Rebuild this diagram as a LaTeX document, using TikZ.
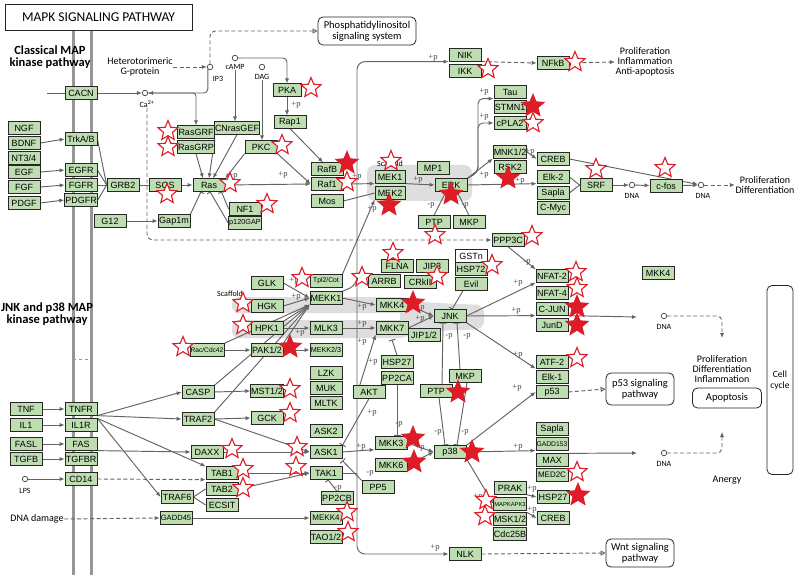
\documentclass[tikz,border=0pt]{standalone}
\usepackage{fontspec}
\setmainfont{Carlito}
\newfontfamily\arialf{Liberation Sans}
\newfontfamily\serff{Liberation Serif}
\usetikzlibrary{shapes.geometric,arrows.meta,calc}
\definecolor{gfill}{RGB}{190,222,178}
\definecolor{starred}{RGB}{222,28,40}
\definecolor{edgec}{RGB}{100,100,100}
\definecolor{memb}{RGB}{150,150,150}
\definecolor{scaf}{RGB}{222,222,222}
\pgfdeclarelayer{bgA}\pgfdeclarelayer{bgB}\pgfsetlayers{bgA,bgB,main}
\tikzset{
 gbox/.style={draw=black!85, fill=gfill, line width=0.75pt, minimum width=32pt, minimum height=12.5pt, inner sep=0.6pt, font=\arialf\fontsize{9}{9}\selectfont},
 rbox/.style={draw=black!85, fill=white, rounded corners=5pt, line width=0.8pt, align=center, font=\fontsize{10.5}{11}\selectfont, inner sep=2pt},
 hstar/.style={star, star points=5, star point ratio=2.25, minimum size=21pt, inner sep=0pt, draw=starred, fill=white, line width=1.1pt},
 fstar/.style={hstar, fill=starred, minimum size=23pt},
 cpd/.style={circle, draw=black!75, fill=white, line width=0.7pt, minimum size=5.5pt, inner sep=0pt},
 ed/.style={draw=edgec, line width=0.95pt},
 ar/.style={ed, -{Latex[length=5pt,width=4.2pt]}},
 inh/.style={ed, -{Bar[width=7pt]}},
 da/.style={ar, dash pattern=on 4pt off 2.5pt},
 dao/.style={ed, dash pattern=on 4pt off 2.5pt, -{Triangle[open,length=5pt,width=5pt]}},
 pl/.style={font=\serff\fontsize{8.5}{9}\selectfont, text=black!75, inner sep=0.3pt},
 lbl/.style={font=\fontsize{10}{10}\selectfont, align=center, inner sep=0.5pt},
 sml/.style={font=\fontsize{8}{8}\selectfont, inner sep=0.3pt},
 hd/.style={font=\bfseries\fontsize{12.5}{11.5}\selectfont, align=center, inner sep=0pt},
}
\newcommand\kb[3]{\node[gbox] (#1) at (#2) {#3};}
\newcommand\kbs[4]{\node[gbox,#4] (#1) at (#2) {#3};}
\newcommand\hs[2]{\node[hstar] (#1) at (#2) {};}
\newcommand\fs[2]{\node[fstar] (#1) at (#2) {};}
\newcommand\pl[3]{\node[pl] (#1) at (#2) {#3};}
\begin{document}
\begin{tikzpicture}[x=1pt,y=-1pt]
\useasboundingbox (0,0) rectangle (800,580);

\begin{pgfonlayer}{bgA}
\fill[white] (0,0) rectangle (800,580);
\draw[memb, line width=3pt] (73,31) -- (73,575);
\draw[memb, line width=3pt] (91,31) -- (91,575);
\draw[memb, line width=1pt, dashed] (73,359) -- (91,359);
\fill[scaf, rounded corners=8pt] (367,165) rectangle (472,201);
\fill[scaf, rounded corners=7pt] (232,297) rectangle (408,313);
\fill[scaf, rounded corners=7pt] (232,320) rectangle (408,338);
\fill[scaf, rounded corners=8pt] (400,300) -- (436,303) -- (484,305) -- (484,329) -- (436,331) -- (400,338) -- cycle;
\end{pgfonlayer}

% headings and texts
\node[draw=black!85, line width=0.8pt, minimum width=187pt, minimum height=26pt, font=\fontsize{13.5}{14}\selectfont] (title) at (98.5,17) {MAPK SIGNALING PATHWAY};
\node[hd] (hd1) at (50,57) {Classical MAP\\kinase pathway};
\node[hd] (hd2) at (47,314) {JNK and p38 MAP\\kinase pathway};
\node[lbl] (hetg) at (140,67) {Heterotorimeric\\G-protein};
\node[lbl] (piatxt) at (645,62) {Proliferation\\Inflammation\\Anti-apoptosis};
\node[lbl] (pdtxt) at (765,185) {Proliferation\\Differentiation};
\node[lbl] (pditxt) at (722,369) {Proliferation\\Differentiation\\Inflammation};
\node[lbl] (anergy) at (727,480) {Anergy};
\node[lbl] (dnad) at (37,519) {DNA damage};
\node[sml] (scf1) at (230,294) {Scaffold};
\node[sml] (scf2) at (390,164) {Scaffold};

% rounded boxes
\node[rbox, minimum width=98pt, minimum height=28pt] (phos) at (367,31) {Phosphatidylinositol\\signaling system};
\node[rbox, minimum width=68pt, minimum height=32pt] (p53sig) at (640,389) {p53 signaling\\pathway};
\node[rbox, minimum width=68pt, minimum height=28pt] (wnt) at (640,553) {Wnt signaling\\pathway};
\node[rbox, minimum width=69pt, minimum height=20pt] (apo) at (727,398) {Apoptosis};
\node[rbox, minimum width=26pt, minimum height=189pt, font=\fontsize{9.5}{11}\selectfont] (cc) at (780,380) {Cell\\cycle};

% compounds
\node[cpd] (Ca) at (145,93) {};
\node[sml] (Cal) at (147,104) {Ca\textsuperscript{2+}};
\node[cpd] (IP3) at (210,67) {};
\node[sml] (IP3l) at (218,79) {IP3};
\node[cpd] (cAMP) at (235,58) {};
\node[sml] (cAMPl) at (235,67) {cAMP};
\node[cpd] (DAG) at (262,67) {};
\node[sml] (DAGl) at (262,77) {DAG};
\node[cpd] (DNA1) at (632,185) {};
\node[sml] (dl1) at (632,196) {DNA};
\node[cpd] (DNA2) at (701,185) {};
\node[sml] (dl2) at (703,196) {DNA};
\node[cpd] (DNA3) at (664,316) {};
\node[sml] (dl3) at (664,327) {DNA};
\node[cpd] (DNA4) at (664,453) {};
\node[sml] (dl4) at (664,464) {DNA};
\node[cpd] (LPS) at (25,479) {};
\node[sml] (LPSl) at (25,491) {LPS};
\coordinate (cacnin) at (47,93);
\coordinate (dna3in) at (637,317);
\coordinate (dna4in) at (637,453);
\coordinate (pdiend) at (722,338);
\coordinate (apoend) at (722,432);
\coordinate (jT) at (357,285);
\coordinate (jM) at (357,394);

% gene boxes - classical
\kb{CACN}{81,93}{CACN}
\kb{NGF}{24,128}{NGF}
\kb{BDNF}{24,143}{BDNF}
\kb{NT34}{24,158}{NT3/4}
\kb{EGF}{24,172}{EGF}
\kb{FGF}{24,187}{FGF}
\kb{PDGF}{24,203}{PDGF}
\kb{TrkAB}{81,139}{TrkA/B}
\kb{EGFR}{81,170}{EGFR}
\kb{FGFR}{81,185}{FGFR}
\kb{PDGFR}{81,200}{PDGFR}
\kb{GRB2}{123,185}{GRB2}
\kb{SOS}{165,185}{SOS}
\kbs{RasGRF}{196,132}{RasGRF}{minimum width=37pt}
\kbs{RasGRP}{196,147}{RasGRP}{minimum width=37pt}
\kbs{Ras}{209,185}{Ras}{minimum width=32pt}
\kb{CNrasGEF}{237,128}{CNrasGEF}
\kb{PKC}{261,147}{PKC}
\kbs{PKA}{287,90}{PKA}{minimum width=28pt}
\kb{Rap1}{290,122}{Rap1}
\kb{RafB}{327,169}{RafB}
\kb{Raf1}{327,184}{Raf1}
\kb{Mos}{327,201}{Mos}
\kb{NF1}{245,209}{NF1}
\kbs{p120GAP}{245,223}{p120GAP}{font=\arialf\fontsize{7.3}{7}\selectfont}
\kb{G12}{110,221}{G12}
\kb{Gap1m}{174,221}{Gap1m}
\kbs{MEK1}{390,177}{MEK1}{minimum width=30pt}
\kbs{MEK2}{390,193}{MEK2}{minimum width=30pt}
\kb{MP1}{433,168}{MP1}
\kb{ERK}{451,185}{ERK}
\kb{PTPu}{434,222}{PTP}
\kb{MKPu}{469,222}{MKP}
\kb{NIK}{465,55}{NIK}
\kb{IKK}{465,71}{IKK}
\kb{NFkB}{553,63}{NFkB}
\kb{Tau}{510,92}{Tau}
\kb{STMN1}{510,107}{STMN1}
\kb{cPLA2}{510,123}{cPLA2}
\kb{MNK12}{510,152}{MNK1/2}
\kb{RSK2}{510,167}{RSK2}
\kb{CREBu}{553,159}{CREB}
\kb{Elk2}{553,177}{Elk-2}
\kb{Saplau}{553,193}{Sapla}
\kb{CMyc}{553,208}{C-Myc}
\kb{SRF}{596,185}{SRF}
\kb{cfos}{666,186}{c-fos}
% JNK / p38
\kb{PPP3C}{508,240}{PPP3C}
\kbs{GSTn}{471,256}{GSTn}{fill=white}
\kb{HSP72}{471,269}{HSP72}
\kb{Evil}{471,284}{Evil}
\kb{JIP3}{432,266}{JIP3}
\kb{FLNA}{397,266}{FLNA}
\kb{CRkII}{420,282}{CRkII}
\kb{ARRB}{384,281}{ARRB}
\kb{GLK}{267,283}{GLK}
\kbs{Tpl2}{326,281}{Tpl2/Cot}{font=\arialf\fontsize{6.8}{7}\selectfont}
\kb{MEKK1}{326,298}{MEKK1}
\kb{HGK}{267,306}{HGK}
\kb{HPK1}{267,328}{HPK1}
\kb{MLK3}{326,328}{MLK3}
\kb{PAK12}{267,350}{PAK1/2}
\kbs{MEKK23}{326,350}{MEKK2/3}{font=\arialf\fontsize{7.2}{7}\selectfont}
\kbs{Rac}{207,350}{Rac/Cdc42}{font=\arialf\fontsize{6.6}{7}\selectfont}
\kb{MKK4}{392,305}{MKK4}
\kb{MKK7}{392,328}{MKK7}
\kb{JNK}{450,316}{JNK}
\kb{JIP12}{424,335}{JIP1/2}
\kb{LZK}{326,373}{LZK}
\kb{MUK}{326,388}{MUK}
\kb{MLTK}{326,403}{MLTK}
\kb{HSP27m}{397,362}{HSP27}
\kb{PP2CA}{397,378}{PP2CA}
\kb{AKT}{369,392}{AKT}
\kb{NFAT2}{552,276}{NFAT-2}
\kb{NFAT4}{552,293}{NFAT-4}
\kb{CJUN}{552,309}{C-JUN}
\kb{JunD}{552,325}{JunD}
\kb{ATF2}{552,362}{ATF-2}
\kb{Elk1}{552,377}{Elk-1}
\kb{p53}{552,392}{p53}
\kb{MKPl}{465,376}{MKP}
\kb{PTPl}{436,391}{PTP}
\kb{MKK4r}{658,273}{MKK4}
\kb{TNF}{26,409}{TNF}
\kb{TNFR}{81,409}{TNFR}
\kb{IL1}{26,425}{IL1}
\kb{IL1R}{81,425}{IL1R}
\kb{FASL}{26,444}{FASL}
\kb{FAS}{81,444}{FAS}
\kb{TGFB}{26,459}{TGFB}
\kb{TGFBR}{81,459}{TGFBR}
\kb{CD14}{81,479}{CD14}
\kb{TRAF6}{177,497}{TRAF6}
\kbs{GADD45}{176,518}{GADD45}{font=\arialf\fontsize{7.6}{7}\selectfont}
\kb{CASP}{198,392}{CASP}
\kb{TRAF2}{198,419}{TRAF2}
\kb{MST12}{267,391}{MST1/2}
\kb{GCK}{267,418}{GCK}
\kb{DAXX}{207,452}{DAXX}
\kb{ASK2}{326,431}{ASK2}
\kb{ASK1}{326,452}{ASK1}
\kb{TAB1}{222,473}{TAB1}
\kb{TAB2}{222,489}{TAB2}
\kb{ECSIT}{222,505}{ECSIT}
\kb{TAK1}{326,473}{TAK1}
\kb{PP2CB}{337,498}{PP2CB}
\kbs{MEKK4}{326,518}{MEKK4}{font=\arialf\fontsize{8}{8}\selectfont}
\kb{TAO12}{326,537}{TAO1/2}
\kb{PP5}{378,487}{PP5}
\kb{MKK3}{391,443}{MKK3}
\kb{MKK6}{391,465}{MKK6}
\kb{p38}{450,452}{p38}
\kb{Saplal}{552,429}{Sapla}
\kbs{GADD153}{552,444}{GADD153}{font=\arialf\fontsize{6.8}{7}\selectfont}
\kb{MAX}{552,460}{MAX}
\kbs{MED2C}{552,475}{MED2C}{font=\arialf\fontsize{8}{8}\selectfont}
\kb{PRAK}{510,488}{PRAK}
\kbs{MAPKAPK3}{510,504}{MAPKAPK3}{font=\arialf\fontsize{5.8}{6}\selectfont}
\kb{MSK12}{510,519}{MSK1/2}
\kb{Cdc25B}{510,534}{Cdc25B}
\kb{HSP27l}{553,497}{HSP27}
\kb{CREBl}{553,518}{CREB}
\kb{NLK}{465,554}{NLK}

\begin{pgfonlayer}{bgB}
% classical
\draw[ed] (cacnin) -- (CACN.west);
\draw[ar] (CACN.east) -- (Ca.west);
\draw[da] (hetg.east) -- (IP3.west);
\draw[dao, rounded corners=5pt] (IP3.north) |- (phos.west);
\draw[ar, rounded corners=4pt] (IP3.south west) |- (Ca.east);
\draw[ar, rounded corners=3pt] (Ca.east) -| (RasGRF.north);
\draw[da, rounded corners=6pt] (Cal.south) |- (PPP3C.west);
\draw[ar, rounded corners=4pt] (cAMP.east) -| (PKA.north);
\draw[ar] (cAMPl.south) -- (cAMPl.south |- CNrasGEF.north);
\draw[ar] (DAGl.south) -- (DAGl.south |- PKC.north);
\draw[ar] (PKA.south) -- (PKA.south |- Rap1.north);
\draw[ar] (Rap1.south) -- ([xshift=-4pt]RafB.north);
\draw[ar] (PKC.south west) -- (Ras.north east);
\draw[ar] (PKC.south east) -- (Raf1.west);
\draw[ar] (CNrasGEF.south) -- ([xshift=4pt]Ras.north);
\draw[ar] (RasGRP.south) -- ([xshift=-6pt]Ras.north);
\draw[ar] (RasGRF.south east) -- (Ras.north);
\draw[ar] (SOS.east) -- (Ras.west);
\draw[ed] (GRB2.east) -- (SOS.west);
\draw[ed] (TrkAB.east) -- (GRB2.west);
\draw[ed] (EGFR.east) -- (GRB2.west);
\draw[ed] (FGFR.east) -- (GRB2.west);
\draw[ed] (PDGFR.east) -- (GRB2.west);
\draw[ar] (BDNF.east) -- (TrkAB.west);
\draw[ar] (EGF.east) -- (EGFR.west);
\draw[ar] (FGF.east) -- (FGFR.west);
\draw[ar] (PDGF.east) -- (PDGFR.west);
\draw[ar] (Ras.east) -- (Raf1.west);
\draw[inh] (NF1.west) -- ([xshift=-4pt]Ras.south east);
\draw[inh] (p120GAP.west) -- ([xshift=1pt]Ras.south);
\draw[inh] (Gap1m.north east) -- ([xshift=-8pt]Ras.south);
\draw[ar] (G12.east) -- (Gap1m.west);
\draw[ar] (Raf1.east) -- (MEK1.south west);
\draw[ed] (Mos.east) -- (MEK2.west);
\draw[ar] (Tpl2.north east) -- (MEK2.south west);
\draw[ar] (MEK1.south east) -- (ERK.west);
\draw[ar, rounded corners=5pt] (ERK.north east) -- (478,172) |- (Tau.south west);
\draw[ar, rounded corners=5pt] (ERK.north east) -- (478,172) |- (cPLA2.west);
\draw[ar] (ERK.north east) -- (MNK12.south west);
\draw[ar] (ERK.east) -- (Elk2.south west);
\draw[ar] (MNK12.east) -- (CREBu.west);
\draw[ar] (CREBu.east) -- (DNA2);
\draw[ed] (Elk2.east) -- (SRF.west);
\draw[ed] (Saplau.east) -- (SRF.west);
\draw[ar] (SRF) -- (DNA1);
\draw[ar] (DNA1) -- (cfos);
\draw[ar] (cfos) -- (DNA2);
\draw[da] (DNA2) -- (pdtxt.west);
\draw[inh] (PTPu.north) -- ([xshift=-5pt]ERK.south);
\draw[inh] (MKPu.north) -- ([xshift=6pt]ERK.south);
\draw[ar, rounded corners=8pt] (MEKK1.north east) -- (jT) |- (NIK.south west);
\draw[ar, rounded corners=8pt] (jT) |- (NLK.west);
\draw[da] (NIK.south east) -- (NFkB.west);
\draw[da] (NFkB.east) -- (piatxt.west);
% JNK
\draw[ar] (GLK.east) -- (MEKK1.west);
\draw[ar] (HGK.east) -- (MEKK1.west);
\draw[ar] (HPK1.north east) -- (MEKK1.south west);
\draw[ar] (PAK12.north east) -- (MEKK1.south west);
\draw[ar] (Rac.north east) -- (MEKK1.south west);
\draw[ar] (CASP.north east) -- (MEKK1.south west);
\draw[ar] (TRAF2.north east) -- (MEKK1.south west);
\draw[ar] (HPK1.east) -- (MLK3.west);
\draw[ar] (PAK12.east) -- (MEKK23.west);
\draw[ar] (Rac.east) -- (PAK12.west);
\draw[ar] (MEKK1.east) -- (MKK4.west);
\draw[ar] (MLK3.east) -- (MKK7.west);
\draw[ar] (jM) -- (MKK7.south west);
\draw[inh] (HSP27m.north) -- ([yshift=-5pt]MKK7.south);
\draw[ar] (MKK4.east) -- (JNK.west);
\draw[ar] (MKK7.east) -- (JNK.west);
\draw[inh] ([xshift=-8pt]Evil.south) -- ([xshift=2pt]JNK.north);
\draw[ar] (JNK.east) -- (NFAT2.south west);
\draw[ar] (JNK.east) -- (CJUN.south west);
\draw[ar] (JNK.south east) -- (ATF2.south west);
\draw[ar] (CJUN.south east) -- (dna3in);
\draw[ar] (PPP3C.south) -- (NFAT2.north west);
\draw[inh] ([xshift=6pt]PTPl.north) -- ([xshift=-7pt]JNK.south);
\draw[inh] ([xshift=-5pt]MKPl.north) -- ([xshift=7pt]JNK.south);
\draw[inh] ([xshift=3pt]PTPl.south) -- ([xshift=-5pt]p38.north);
\draw[inh] ([xshift=2pt]MKPl.south) -- ([xshift=7pt]p38.north);
\draw[ar] (MKK3.east) -- (p38.west);
\draw[ar] (MKK6.east) -- (p38.west);
\draw[ar] (p38.north east) -- (p53.west);
\draw[ar] (p38.east) -- (GADD153.south west);
\draw[ar] (MAX.north east) -- (dna4in);
\draw[ar] (p38.south east) -- (MAPKAPK3.west);
\draw[ar] (PRAK.south east) -- (HSP27l.west);
\draw[ar] (MSK12.north east) -- (CREBl.west);
\draw[dao] (p53.east) -- (p53sig.west);
\draw[dao] (NLK.east) -- (wnt.west);
\draw[ar] (ASK1.east) -- (MKK3.south west);
\draw[inh] (AKT.south) -- (ASK1.north east);
\draw[inh] (PP5.north west) -- ([yshift=-2pt]ASK1.south east);
\draw[inh] (PP2CB.north) -- ([xshift=2pt]TAK1.south);
\draw[inh] (PP2CA.south) -- (PP2CA.south |- MKK3.north);
\draw[ar] (TNF) -- (TNFR);
\draw[ar] (IL1) -- (IL1R);
\draw[ar] (FASL) -- (FAS);
\draw[ar] (TGFB) -- (TGFBR);
\draw[ar] (LPS) -- (CD14);
\draw[ar] (TNFR.south east) -- (CASP.west);
\draw[ar] (TNFR.south east) -- (TRAF2.west);
\draw[ar] (IL1R.north east) -- (TAB1.north west);
\draw[ar] (IL1R.north east) -- (TRAF6.west);
\draw[ar] (FAS.south east) -- (DAXX.west);
\draw[da] (CD14.east) -- (TAB1.south west);
\draw[ed] (TRAF6.east) -- (TAB2.west);
\draw[ed] (TRAF6.east) -- (ECSIT.west);
\draw[da] (dnad.east) -- (GADD45.west);
\draw[ar] (GADD45.east) -- (MEKK4.west);
\draw[ar] (CASP.east) -- (MST12.west);
\draw[ar] (TRAF2.east) -- (GCK.west);
\draw[ar] (TRAF2.east) -- (ASK1.west);
\draw[ar] (DAXX.east) -- (ASK1.west);
\draw[ar] (TAB1.east) -- (TAK1.west);
\draw[ar] (TAB2.east) -- (TAK1.west);
\draw[ed] (TAK1.east) -- (TAK1.east -| jT);
\draw[da, rounded corners=5pt] (DNA3.east) -| (pdiend);
\draw[da, rounded corners=5pt] (DNA4.east) -| (apoend);
\end{pgfonlayer}

% +p / -p labels
\pl{l1}{296,105}{+p}
\pl{l2}{233,176}{+p}
\pl{l3}{283,175}{+p}
\pl{l4}{357,177}{+p}
\pl{l5}{372,209}{+p}
\pl{l6}{418,180}{+p}
\pl{l7}{433,58}{+p}
\pl{l8}{484,92}{+p}
\pl{l9}{484,117}{+p}
\pl{l10}{484,175}{+p}
\pl{l11}{520,181}{+p}
\pl{l12}{530,152}{+p}
\pl{l13}{431,205}{-p}
\pl{l14}{465,205}{-p}
\pl{l15}{294,281}{+p}
\pl{l16}{296,297}{+p}
\pl{l17}{300,333}{+p}
\pl{l18}{362,307}{+p}
\pl{l19}{362,324}{+p}
\pl{l20}{420,308}{+p}
\pl{l21}{420,319}{+p}
\pl{l22}{518,283}{+p}
\pl{l23}{516,311}{+p}
\pl{l24}{518,355}{+p}
\pl{l25}{527,262}{-p}
\pl{l26}{449,336}{-p}
\pl{l27}{467,336}{-p}
\pl{l28}{438,432}{-p}
\pl{l29}{465,432}{-p}
\pl{l30}{420,448}{+p}
\pl{l31}{517,388}{+p}
\pl{l32}{518,447}{+p}
\pl{l33}{478,497}{+p}
\pl{l34}{532,489}{+p}
\pl{l35}{532,510}{+p}
\pl{l36}{361,447}{+p}
\pl{l37}{372,413}{+p}
\pl{l38}{370,473}{-p}
\pl{l39}{338,488}{-p}
\pl{l40}{399,424}{-p}
\pl{l41}{435,548}{+p}
\pl{l42}{362,342}{+p}
\pl{l43}{373,362}{+p}

% hollow stars
\hs{s1}{311,88}
\hs{s2}{282,145}
\hs{s3}{347,182}
\hs{s4}{230,183}
\hs{s5}{168,131}
\hs{s6}{168,147}
\hs{s7}{167,194}
\hs{s8}{391,161}
\hs{s9}{488,69}
\hs{s10}{575,62}
\hs{s11}{533,123}
\hs{s12}{596,169}
\hs{s13}{665,168}
\hs{s14}{267,204}
\hs{s15}{435,235}
\hs{s16}{532,236}
\hs{s17}{492,265}
\hs{s18}{437,276}
\hs{s19}{393,253}
\hs{s20}{362,277}
\hs{s21}{302,278}
\hs{s22}{243,303}
\hs{s23}{243,325}
\hs{s24}{183,347}
\hs{s25}{576,272}
\hs{s26}{577,288}
\hs{s27}{577,358}
\hs{s28}{290,389}
\hs{s29}{290,413}
\hs{s30}{232,449}
\hs{s31}{297,447}
\hs{s32}{243,469}
\hs{s33}{243,488}
\hs{s34}{296,467}
\hs{s35}{347,512}
\hs{s36}{348,532}
\hs{s37}{577,472}
\hs{s38}{486,500}
\hs{s39}{485,516}
% filled stars
\fs{f1}{347,163}
\fs{f2}{389,205}
\fs{f3}{451,194}
\fs{f4}{533,106}
\fs{f5}{508,178}
\fs{f6}{290,347}
\fs{f7}{413,303}
\fs{f8}{577,307}
\fs{f9}{577,325}
\fs{f10}{458,392}
\fs{f11}{413,438}
\fs{f12}{414,462}
\fs{f13}{472,452}
\fs{f14}{578,495}
\end{tikzpicture}
\end{document}
